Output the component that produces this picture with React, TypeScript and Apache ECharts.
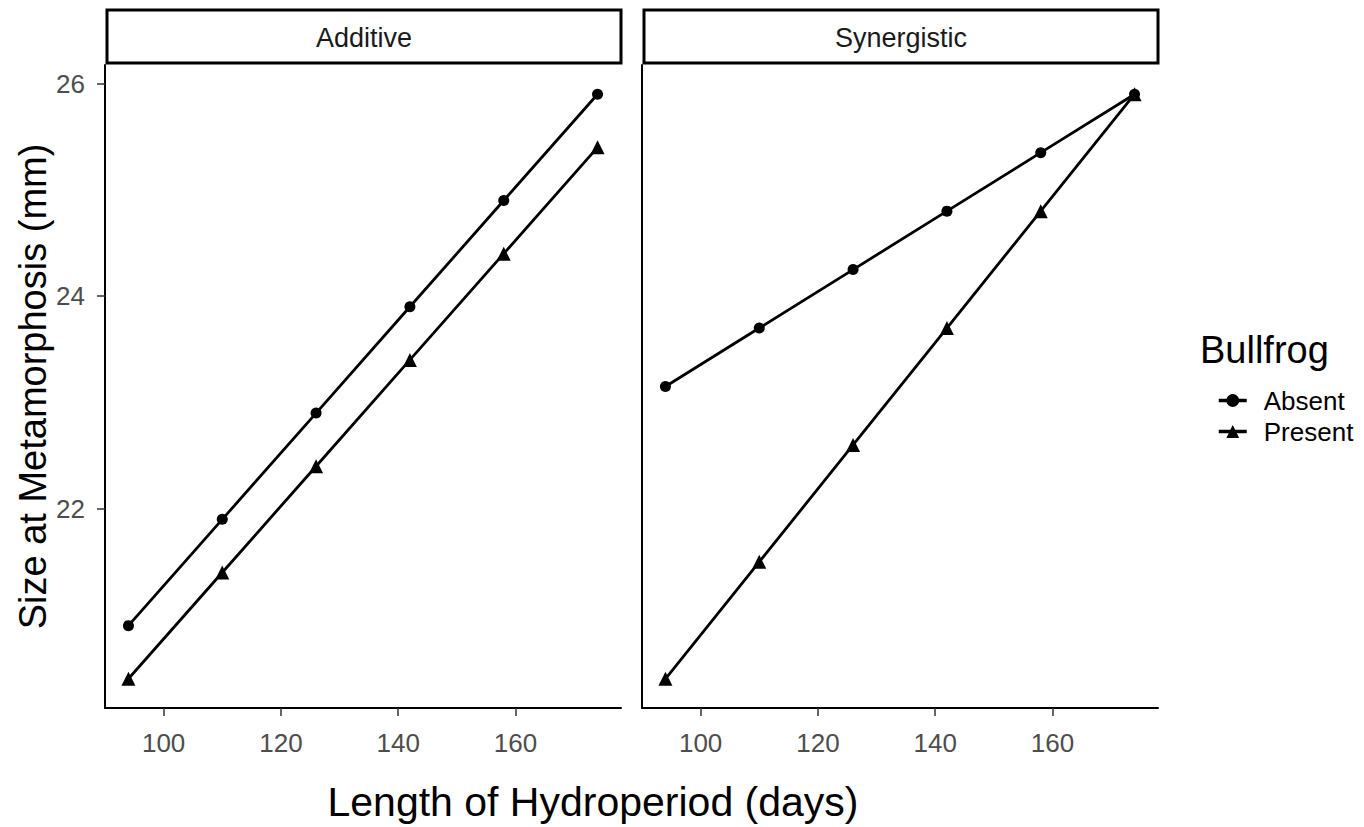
import React, { useEffect, useRef } from "react";
import * as echarts from "echarts";

const hydroperiod = [94, 110, 126, 142, 158, 174];
const additiveAbsent = [20.9, 21.9, 22.9, 23.9, 24.9, 25.9];
const additivePresent = [20.4, 21.4, 22.4, 23.4, 24.4, 25.4];
const synergisticAbsent = [23.15, 23.7, 24.25, 24.8, 25.35, 25.9];
const synergisticPresent = [20.4, 21.5, 22.6, 23.7, 24.8, 25.9];
const facets = ["Additive", "Synergistic"];
const xTicks = [100, 120, 140, 160];
const yTicks = [22, 24, 26];

const FONT = "'Liberation Sans', Arial, sans-serif";

export default function App() {
  const ref = useRef<HTMLDivElement>(null);
  useEffect(() => {
    document.body.style.margin = "0";
    const chart = echarts.init(ref.current!, null, { renderer: "svg" });
    const pair = (ys: number[]) => hydroperiod.map((x, i) => [x, ys[i]]);
    const grids = [
      { left: 105, top: 65, width: 516, height: 643 },
      { left: 642, top: 65, width: 516, height: 643 },
    ];
    const xAxis = grids.map((_, i) => ({
      type: "value",
      gridIndex: i,
      min: 90,
      max: 178,
      splitLine: { show: false },
      axisLine: { show: true, onZero: false, lineStyle: { color: "#000", width: 2 } },
      axisTick: { show: true, customValues: xTicks, length: 8, lineStyle: { color: "#333", width: 1.5 } },
      axisLabel: { customValues: xTicks, fontSize: 26, color: "#4d4d4d", fontFamily: FONT, margin: 22 },
    }));
    const yAxis = grids.map((_, i) => ({
      type: "value",
      gridIndex: i,
      min: 20.125,
      max: 26.175,
      splitLine: { show: false },
      axisLine: { show: true, onZero: false, lineStyle: { color: "#000", width: 2 } },
      axisTick: { show: i === 0, customValues: yTicks, length: 8, lineStyle: { color: "#333", width: 1.5 } },
      axisLabel: { show: i === 0, customValues: yTicks, fontSize: 26, color: "#4d4d4d", fontFamily: FONT, margin: 20 },
      name: i === 0 ? "Size at Metamorphosis (mm)" : "",
      nameLocation: "middle",
      nameGap: 53,
      nameTextStyle: { fontSize: 38, color: "#000", fontFamily: FONT },
    }));
    const mk = (name: string, ys: number[], idx: number, symbol: string, size: number) => ({
      type: "line",
      name,
      xAxisIndex: idx,
      yAxisIndex: idx,
      data: pair(ys),
      symbol,
      symbolSize: size,
      showSymbol: true,
      lineStyle: { color: "#000", width: 2.8 },
      itemStyle: { color: "#000" },
      z: 3,
    });
    const strips = facets.map((f, i) => ({
      type: "group",
      children: [
        {
          type: "rect",
          shape: { x: grids[i].left + 2, y: 10, width: grids[i].width - 2, height: 53 },
          style: { fill: "#fff", stroke: "#000", lineWidth: 3 },
        },
        {
          type: "text",
          x: grids[i].left + 1 + grids[i].width / 2,
          y: 38,
          style: { text: f, fontSize: 27, fill: "#1a1a1a", fontFamily: FONT, align: "center", verticalAlign: "middle" },
        },
      ],
    }));
    chart.setOption({
      animation: false,
      backgroundColor: "#fff",
      grid: grids,
      xAxis,
      yAxis,
      series: [
        mk("Absent", additiveAbsent, 0, "circle", 11),
        mk("Present", additivePresent, 0, "triangle", 14),
        mk("Absent", synergisticAbsent, 1, "circle", 11),
        mk("Present", synergisticPresent, 1, "triangle", 14),
      ],
      legend: {
        data: ["Absent", "Present"],
        orient: "vertical",
        left: 1212,
        top: 382,
        itemWidth: 28,
        itemHeight: 16,
        itemGap: 4,
        lineStyle: { width: 3.5, color: "#000" },
        textStyle: { fontSize: 26, lineHeight: 27, color: "#000", fontFamily: FONT, padding: [0, 0, 0, 12] },
      },
      graphic: [
        ...strips,
        {
          type: "text",
          x: 1200,
          y: 350,
          style: { text: "Bullfrog", fontSize: 38, fill: "#000", fontFamily: FONT, verticalAlign: "middle" },
        },
        {
          type: "text",
          x: 593,
          y: 802,
          style: { text: "Length of Hydroperiod (days)", fontSize: 41, fill: "#000", fontFamily: FONT, align: "center", verticalAlign: "middle" },
        },
      ],
    });
    return () => chart.dispose();
  }, []);
  return <div ref={ref} style={{ width: 1364, height: 827 }} />;
}
